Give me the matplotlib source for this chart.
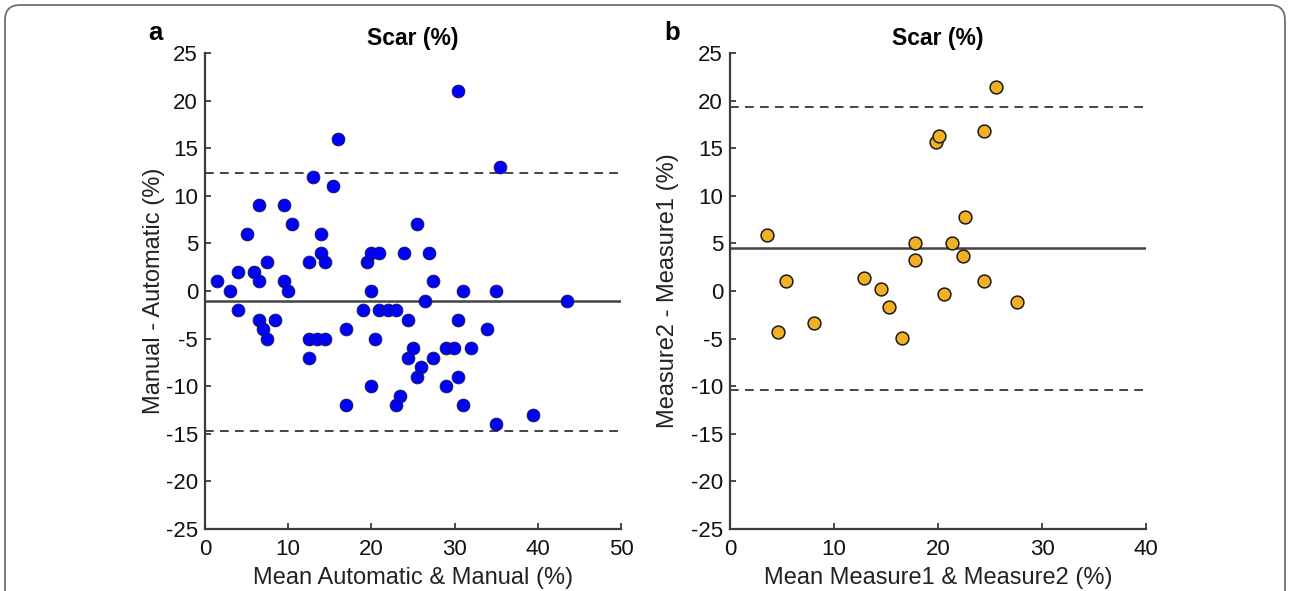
import matplotlib
matplotlib.use('Agg')
import matplotlib.pyplot as plt
from matplotlib.patches import FancyBboxPatch

plt.rcParams['font.family'] = ['Liberation Sans', 'DejaVu Sans']
plt.rcParams['axes.unicode_minus'] = False

# Panel a: automatic vs manual (mean, difference)
a_mean = [1.4, 3.0, 4.0, 4.0, 5.0, 5.9, 6.5, 6.5, 6.5, 7.0, 7.5, 7.5, 8.4, 9.5, 9.5,
          10.0, 10.5, 12.5, 12.5, 12.5, 13.0, 13.5, 13.9, 13.9, 14.4, 14.4, 15.4, 16.0,
          16.9, 16.9, 19.0, 19.5, 20.0, 20.0, 20.0, 20.4, 20.9, 20.9, 22.0, 22.9, 22.9,
          23.4, 23.9, 24.4, 24.4, 25.0, 25.5, 25.5, 26.0, 26.4, 26.9, 27.4, 27.4, 29.0,
          29.0, 29.9, 30.4, 30.4, 30.4, 31.0, 31.0, 32.0, 33.9, 35.0, 35.0, 35.5, 39.4, 43.5]
a_diff = [1, 0, 2, -2, 6, 2, 9, 1, -3, -4, -5, 3, -3, 9, 1,
          0, 7, 3, -5, -7, 12, -5, 6, 4, 3, -5, 11, 16,
          -4, -12, -2, 3, 4, 0, -10, -5, 4, -2, -2, -2, -12,
          -11, 4, -3, -7, -6, 7, -9, -8, -1, 4, 1, -7, -6,
          -10, -6, 21, -3, -9, 0, -12, -6, -4, 0, -14, 13, -13, -1]
a_bias = -1.05
a_loa = [12.4, -14.7]

# Panel b: measure1 vs measure2
b_mean = [3.6, 5.4, 4.6, 8.1, 12.9, 14.5, 15.3, 16.5, 17.8, 17.8,
          19.8, 20.1, 20.6, 21.3, 22.4, 22.6, 24.4, 24.4, 25.6, 27.6]
b_diff = [5.9, 1.1, -4.3, -3.4, 1.4, 0.2, -1.7, -4.9, 5.0, 3.3,
          15.6, 16.3, -0.3, 5.0, 3.7, 7.8, 16.8, 1.0, 21.4, -1.2]
b_bias = 4.5
b_loa = [19.3, -10.4]

yticks = list(range(-25, 30, 5))
axis_col = '#3c3c3c'

fig = plt.figure(figsize=(12.9, 5.91), dpi=100)

# rounded frame around the figure (bottom runs off the image)
frame = FancyBboxPatch((0.05, -0.5), 12.8, 6.36, boxstyle='round,pad=0,rounding_size=0.15',
                       transform=fig.dpi_scale_trans, fill=False, edgecolor='#6e6e6e',
                       linewidth=1.3)
fig.patches.append(frame)


def style_axes(ax, xmax, xlabel, ylabel, letter, ylab_x, letter_x):
    ax.set_xlim(0, xmax)
    ax.set_ylim(-25, 25)
    ax.set_yticks(yticks)
    ax.set_xticks(range(0, xmax + 1, 10))
    for s in ['top', 'right']:
        ax.spines[s].set_visible(False)
    for s in ['left', 'bottom']:
        ax.spines[s].set_color(axis_col)
        ax.spines[s].set_linewidth(1.6)
    ax.tick_params(direction='in', length=4, width=1.3, color=axis_col,
                   labelsize=16, labelcolor='#111111')
    ax.tick_params(axis='y', pad=5)
    ax.tick_params(axis='x', pad=7)
    ax.set_xlabel(xlabel, fontsize=17, color='#222222', labelpad=5)
    ax.set_ylabel(ylabel, fontsize=17, color='#222222')
    ax.yaxis.set_label_coords(ylab_x, 0.5)
    ax.set_title('Scar (%)', fontsize=16.5, fontweight='bold', pad=6)
    ax.text(letter_x, 1.041, letter, transform=ax.transAxes, fontsize=18.5,
            fontweight='bold', ha='center', va='center')


ax1 = fig.add_axes([0.1589, 0.1049, 0.3225, 0.8054])
ax1.axhline(a_bias, color='#444444', lw=1.8, zorder=1)
for v in a_loa:
    ax1.axhline(v, color='#444444', lw=1.4, ls=(0, (4.5, 3.2)), zorder=1)
ax1.scatter(a_mean, a_diff, s=85, c='#0000ff', edgecolors='#1a1a40', linewidths=0.6,
            zorder=3, clip_on=False)
style_axes(ax1, 50, 'Mean Automatic & Manual (%)', 'Manual - Automatic (%)', 'a',
           -0.095, -0.12)

ax2 = fig.add_axes([0.5659, 0.1049, 0.3225, 0.8054])
ax2.axhline(b_bias, color='#444444', lw=1.8, zorder=1)
for v in b_loa:
    ax2.axhline(v, color='#444444', lw=1.4, ls=(0, (4.5, 3.2)), zorder=1)
ax2.scatter(b_mean, b_diff, s=85, c='#f2b124', edgecolors='#1a1a1a', linewidths=1.1,
            zorder=3, clip_on=False)
style_axes(ax2, 40, 'Mean Measure1 & Measure2 (%)', 'Measure2 - Measure1 (%)', 'b',
           -0.122, -0.139)

fig.savefig('out.png', dpi=100)
